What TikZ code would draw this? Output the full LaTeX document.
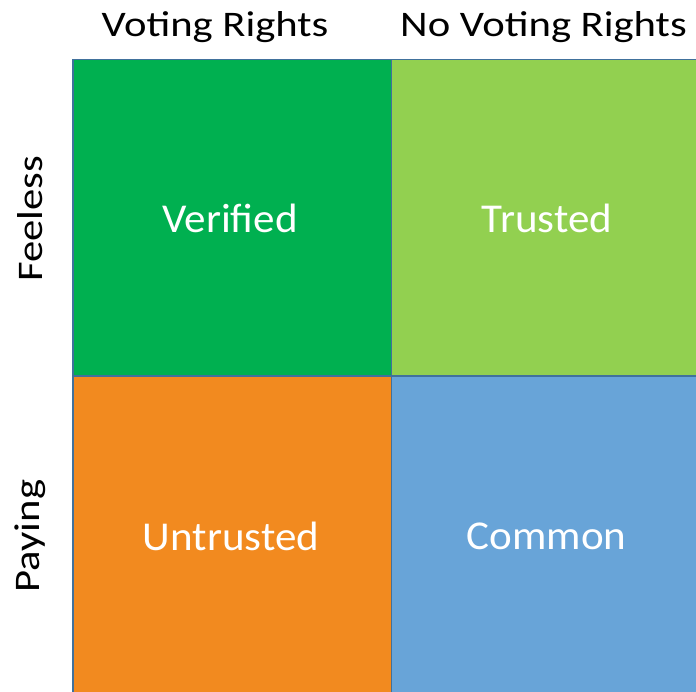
\documentclass[tikz,border=0pt]{standalone}
\usepackage{fontspec}
\setmainfont{Carlito}
\definecolor{cgreen}{HTML}{00B050}
\definecolor{clime}{HTML}{92D050}
\definecolor{corange}{HTML}{F28A1F}
\definecolor{cblue}{HTML}{68A4D8}
\definecolor{cedge}{HTML}{41719C}
\newcommand{\wideh}[1]{\scalebox{1.185}[1]{#1}}
\newcommand{\widec}[1]{\scalebox{1.05}[1]{#1}}
\begin{document}
\begin{tikzpicture}[x=1pt,y=-1pt,
  cell/.style={draw=cedge, line width=1.3pt},
  celltext/.style={text=white, font=\fontsize{41}{44}\selectfont},
  headtext/.style={text=black, font=\fontsize{36}{38}\selectfont, anchor=base},
  sidetext/.style={text=black, font=\fontsize{36}{38}\selectfont, rotate=90}]
\useasboundingbox (0,0) rectangle (696,691);
\begin{scope}
\clip (0,0) rectangle (696,691);
\fill[cgreen] (73,59.5) rectangle (391.5,376);
\fill[clime] (391.5,59.5) rectangle (710,376);
\fill[corange] (73,376) rectangle (391.5,700);
\fill[cblue] (391.5,376) rectangle (710,700);
\draw[cell] (73,59.5) rectangle (391.5,376);
\draw[cell] (391.5,59.5) rectangle (710,376);
\draw[cell] (73,376) rectangle (391.5,700);
\draw[cell] (391.5,376) rectangle (710,700);
\end{scope}
\node[celltext] (verified) at (230,218) {\widec{Verified}};
\node[celltext] (trusted) at (547,218) {\widec{Trusted}};
\node[celltext] (untrusted) at (231,536) {\widec{Untrusted}};
\node[celltext] (common) at (546.5,536) {\widec{Common}};
\node[headtext] (vr) at (215,36) {\wideh{Voting Rights}};
\node[headtext] (nvr) at (543.5,36) {\wideh{No Voting Rights}};
\node[sidetext] (feeless) at (30,219) {\wideh{Feeless}};
\node[sidetext] (paying) at (30,536) {\wideh{Paying}};
\end{tikzpicture}
\end{document}
